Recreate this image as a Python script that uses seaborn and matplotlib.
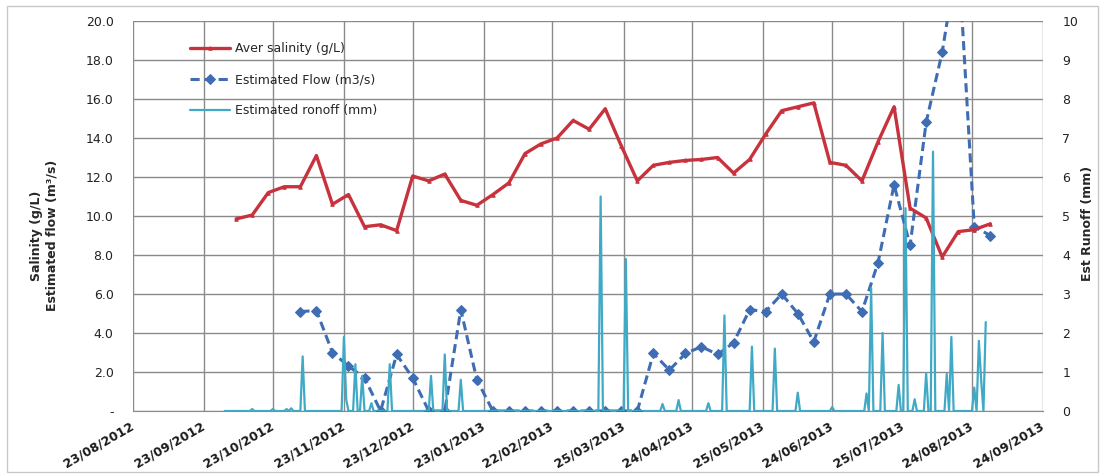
import numpy as np
import pandas as pd
import seaborn as sns
import matplotlib.pyplot as plt
import matplotlib.ticker as ticker
from matplotlib.patches import Rectangle

# weekly sampling: salinity from 07/10/2012, flow starts 4 weeks later
sample_dates = pd.date_range("2012-10-07", periods=48, freq="7D")
salinity = [9.85, 10.05, 11.2, 11.5, 11.5, 13.1, 10.6, 11.1, 9.45, 9.55,
            9.25, 12.05, 11.8, 12.15, 10.8, 10.55, 11.1, 11.7, 13.2, 13.7,
            14.0, 14.9, 14.45, 15.5, 13.6, 11.8, 12.6, 12.75, 12.85, 12.9,
            13.0, 12.2, 12.9, 14.2, 15.4, 15.6, 15.8, 12.75, 12.6, 11.8,
            13.8, 15.6, 10.4, 9.9, 7.9, 9.2, 9.3, 9.6]
flow = [5.1, 5.15, 3.0, 2.3, 1.7, 0.0, 2.9, 1.7, 0.0, 0.0,
        5.2, 1.6, 0.0, 0.0, 0.0, 0.0, 0.0, 0.0, 0.0, 0.0,
        0.0, 0.0, 2.95, 2.1, 2.95, 3.3, 2.9, 3.5, 5.2, 5.1,
        6.0, 5.0, 3.55, 6.0, 6.0, 5.1, 7.6, 11.6, 8.5, 14.8,
        18.4, 23.5, 9.45, 9.0]

# daily runoff, only the days with rain are listed (all other days 0)
runoff_start, runoff_end = "2012-10-02", "2013-08-30"
runoff_days = ["2012-10-14", "2012-10-23", "2012-10-29", "2012-10-31", "2012-11-05",
               "2012-11-23", "2012-11-24", "2012-11-28", "2012-12-01", "2012-12-05",
               "2012-12-13", "2012-12-31", "2013-01-06", "2013-01-13", "2013-03-15",
               "2013-03-26", "2013-04-11", "2013-04-18", "2013-05-01", "2013-05-08",
               "2013-05-20", "2013-05-30", "2013-06-09", "2013-06-24", "2013-07-09",
               "2013-07-11", "2013-07-16", "2013-07-23", "2013-07-26", "2013-07-30",
               "2013-08-04", "2013-08-07", "2013-08-13", "2013-08-15", "2013-08-25",
               "2013-08-27", "2013-08-28", "2013-08-30"]
runoff_mm = [0.05, 0.05, 0.05, 0.07, 1.4,
             1.9, 0.3, 1.2, 0.9, 0.2,
             1.2, 0.9, 1.45, 0.8, 5.5,
             3.9, 0.18, 0.28, 0.2, 2.45,
             1.65, 1.6, 0.47, 0.1, 0.45,
             3.15, 2.0, 0.67, 5.2, 0.3,
             0.97, 6.65, 0.95, 1.9, 0.6,
             1.8, 0.8, 2.28]

tick_dates = ["2012-08-23", "2012-09-23", "2012-10-23", "2012-11-23", "2012-12-23",
              "2013-01-23", "2013-02-22", "2013-03-25", "2013-04-24", "2013-05-25",
              "2013-06-24", "2013-07-25", "2013-08-24", "2013-09-24"]
tick_labels = ["23/08/2012", "23/09/2012", "23/10/2012", "23/11/2012", "23/12/2012",
               "23/01/2013", "22/02/2013", "25/03/2013", "24/04/2013", "25/05/2013",
               "24/06/2013", "25/07/2013", "24/08/2013", "24/09/2013"]

sal_df = pd.DataFrame({"date": sample_dates, "salinity": salinity})
flow_df = pd.DataFrame({"date": sample_dates[4:], "flow": flow})
runoff = pd.Series(runoff_mm, index=pd.to_datetime(runoff_days))
runoff = runoff.reindex(pd.date_range(runoff_start, runoff_end), fill_value=0.0)
run_df = pd.DataFrame({"date": runoff.index, "runoff": runoff.values})

sns.set_style("white")
plt.rcParams["font.family"] = ["DejaVu Sans"]

RED = "#C8323C"
BLUE = "#3F6DB3"
CYAN = "#40AAC6"
GRID = "#8A8A8A"

fig = plt.figure(figsize=(11.02, 4.74), dpi=100)
ax = fig.add_axes([0.1207, 0.1329, 0.8258, 0.8228])
ax2 = ax.twinx()

sns.lineplot(data=sal_df, x="date", y="salinity", ax=ax, color=RED, lw=2.4,
             marker="^", markersize=2.5, markeredgecolor=RED,
             label="Aver salinity (g/L)", zorder=4, legend=False)
sns.lineplot(data=flow_df, x="date", y="flow", ax=ax, color=BLUE, lw=2.2,
             linestyle=(0, (3, 1.6)), marker="D", markersize=5,
             markeredgecolor=BLUE, label="Estimated Flow (m3/s)",
             zorder=3, legend=False)
sns.lineplot(data=run_df, x="date", y="runoff", ax=ax2, color=CYAN, lw=1.6,
             label="Estimated ronoff (mm)", legend=False)

xt = pd.to_datetime(tick_dates)
ax.set_xlim(xt[0], xt[-1])
ax.set_xticks(xt)
ax.set_xticklabels(tick_labels, rotation=30, ha="right", va="center",
                   rotation_mode="anchor", fontsize=9, fontweight="bold")
ax.set_ylim(0, 20)
ax.set_yticks(np.arange(0, 20.1, 2))
ax.yaxis.set_major_formatter(ticker.FuncFormatter(
    lambda v, pos: "-" if v == 0 else f"{v:.1f}"))
ax2.set_ylim(0, 10)
ax2.set_yticks(range(0, 11))

ax.grid(True, color=GRID, lw=1.0)
ax2.grid(False)
for a in (ax, ax2):
    for side in a.spines:
        a.spines[side].set_visible(False)
    a.tick_params(axis="both", length=0, labelsize=9, colors="#222222")
ax.tick_params(axis="x", length=4, width=1, color=GRID, pad=6,
               labelcolor="#1a1a1a")
ax.tick_params(axis="y", pad=14)
ax2.tick_params(axis="y", pad=14)
ax.spines["bottom"].set_visible(True)
ax.spines["bottom"].set_color(GRID)

ax.set_xlabel("")
ax.set_ylabel("Salinity (g/L)\nEstimated flow (m³/s)", fontsize=9,
              fontweight="bold")
ax.yaxis.set_label_coords(-0.082, 0.45)
ax2.set_ylabel("Est Runoff (mm)", fontsize=9, fontweight="bold")
ax2.yaxis.set_label_coords(1.042, 0.48)

h1, l1 = ax.get_legend_handles_labels()
h2, l2 = ax2.get_legend_handles_labels()
ax2.legend(h1 + h2, l1 + l2, loc="upper left", bbox_to_anchor=(0.05, 0.975),
           frameon=False, fontsize=9, handlelength=3.2, labelspacing=1.45,
           handletextpad=0.4)

fig.patches.append(Rectangle((0.006, 0.005), 0.99, 0.982, transform=fig.transFigure,
                             fill=False, edgecolor="#C8C8C8", lw=1.0))

fig.savefig("out.png", dpi=100)
